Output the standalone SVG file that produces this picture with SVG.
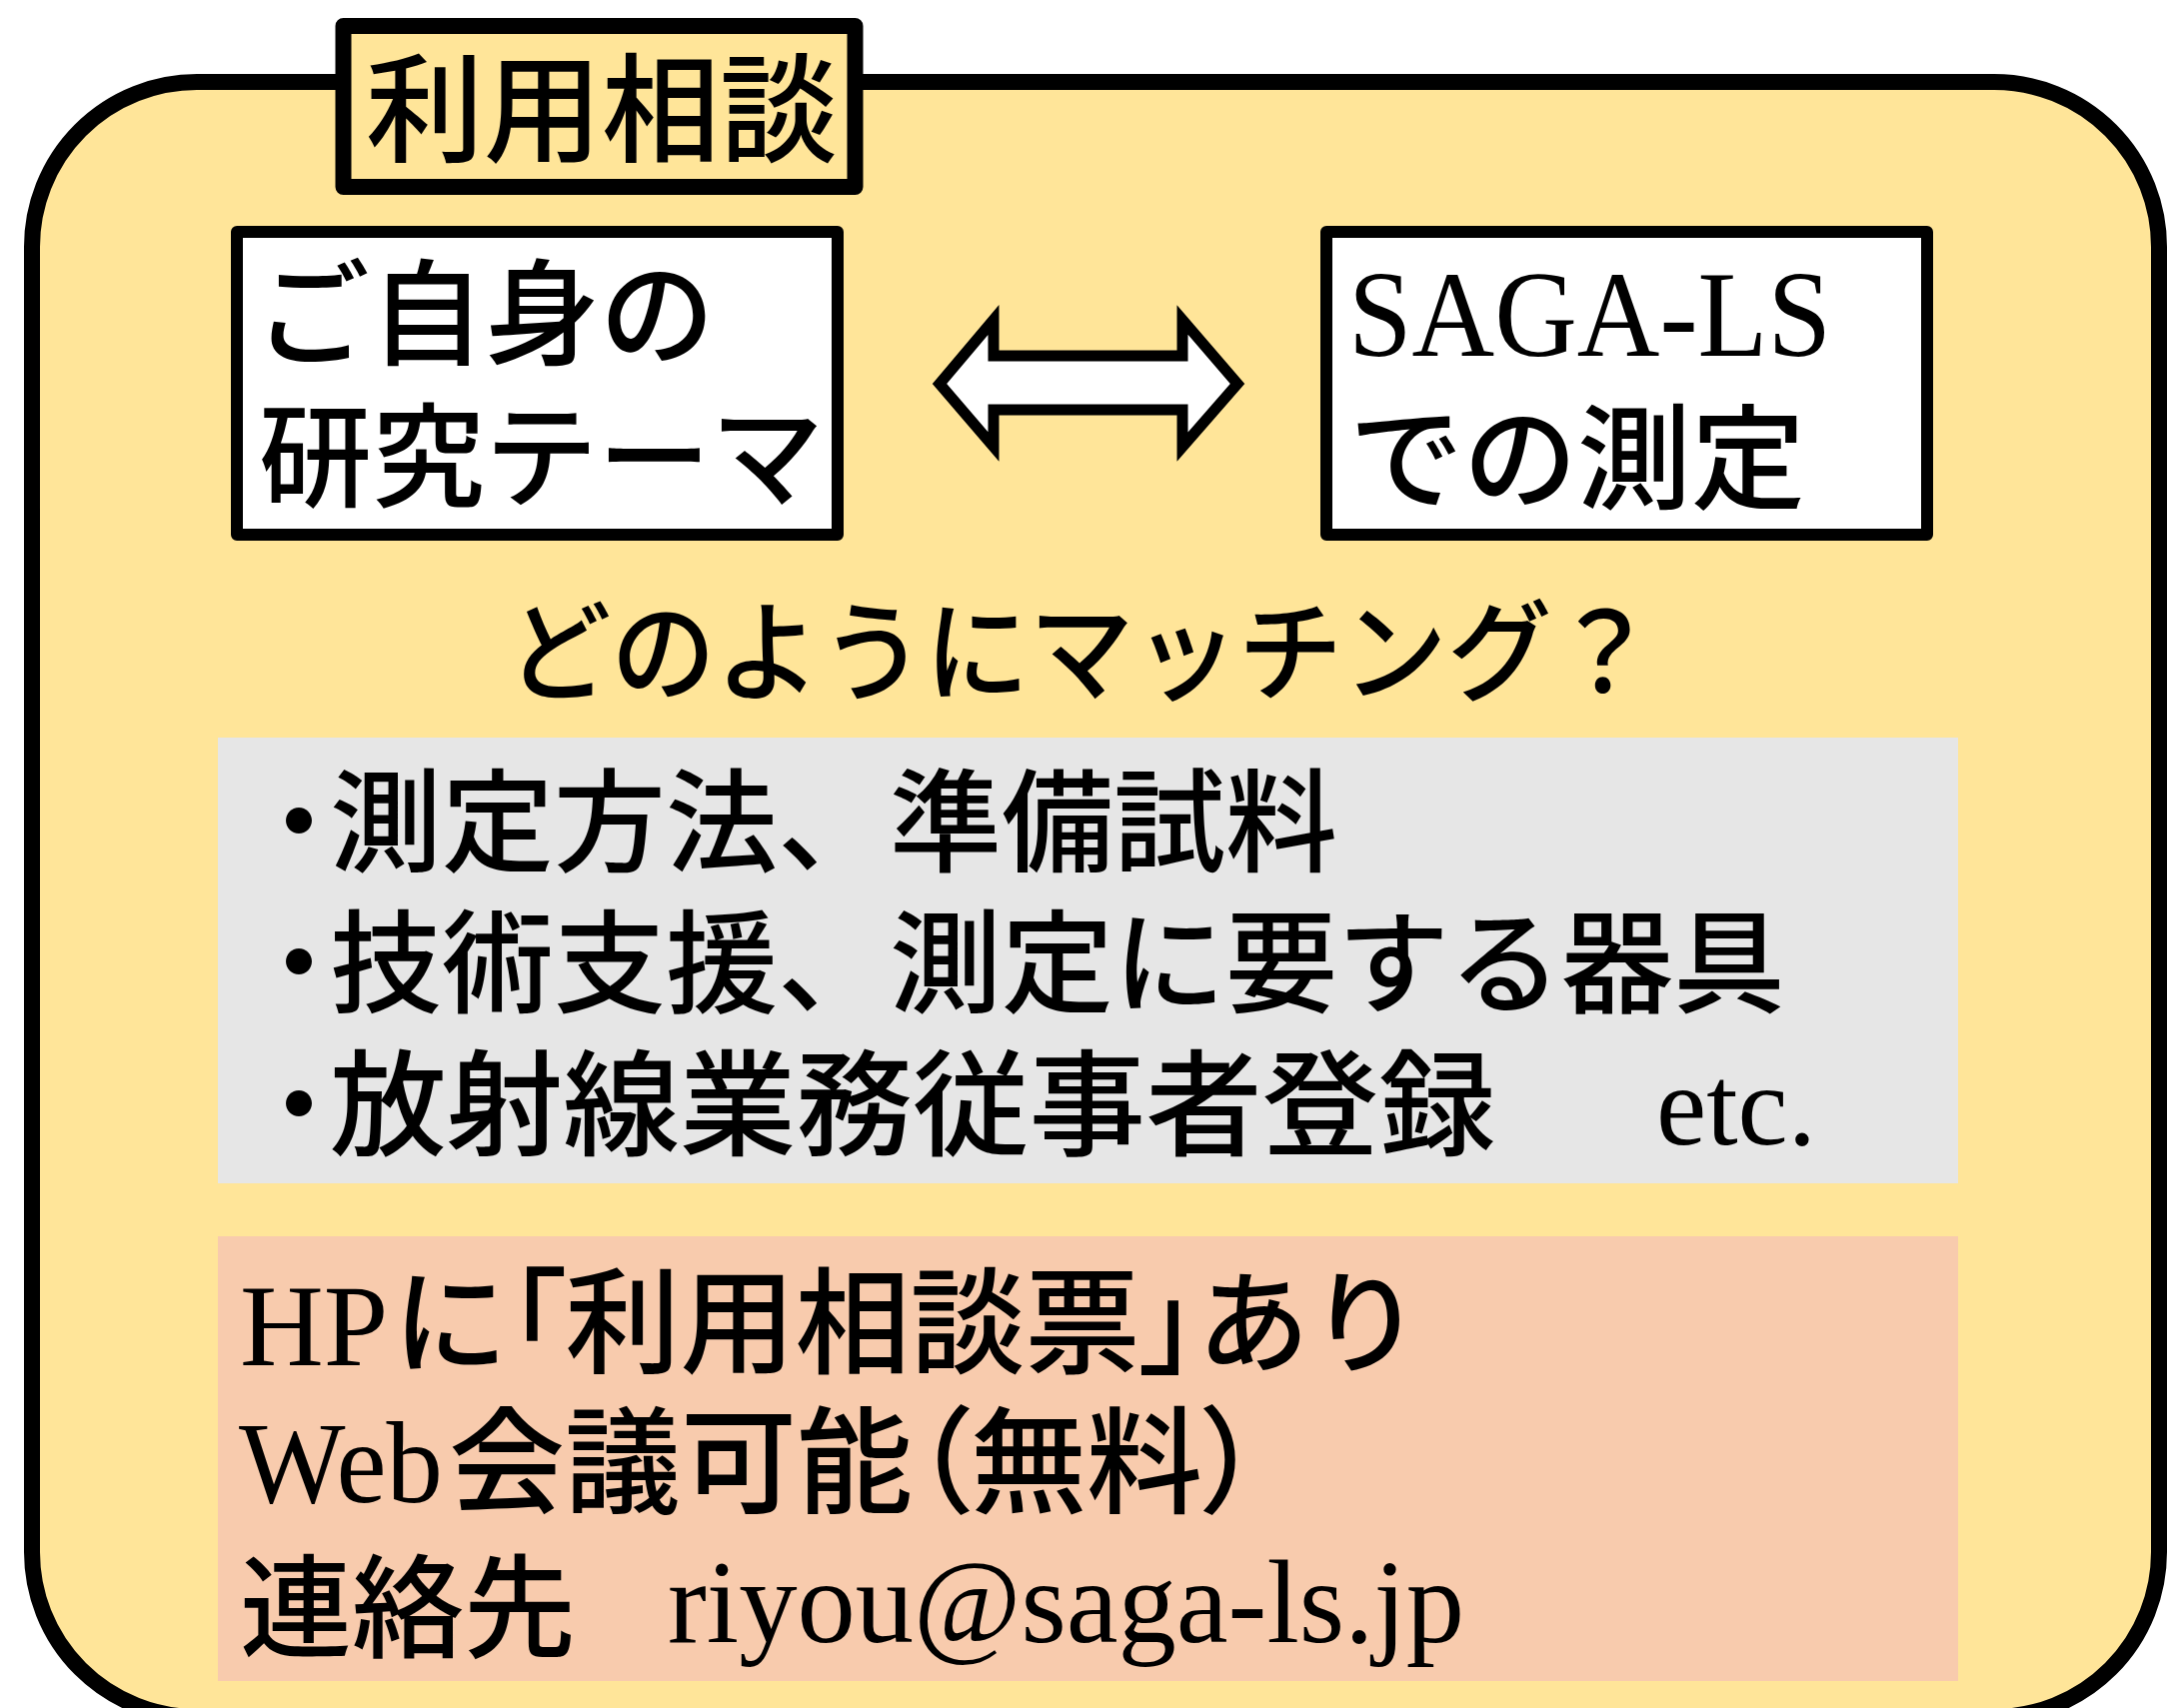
<svg xmlns="http://www.w3.org/2000/svg" width="2169" height="1709" viewBox="0 0 2169 1709">
<style>
.jp{font-family:"Noto Sans CJK JP","Noto Sans CJK SC",sans-serif;font-weight:500;fill:#000}
.lat{font-family:"Liberation Serif","Times New Roman",serif;font-weight:400;fill:#000}
.palt{font-feature-settings:"palt"}
.box{fill:#fff;stroke:#000;stroke-width:12;stroke-linejoin:round}
.yel{fill:#FFE599;stroke:#000;stroke-width:16;stroke-linejoin:round}
</style>
<rect width="2169" height="1709" fill="#fff"/>
<g id="panel">
<rect class="yel" x="32" y="82" width="2128" height="1636" rx="165" ry="165"/>
</g>
<g id="title">
<rect class="yel" x="343.5" y="26" width="512" height="161"/>
<text class="jp" x="366" y="153" font-size="118">利用相談</text>
</g>
<g id="theme">
<rect class="box" x="237" y="232" width="601" height="303"/>
<text class="jp" x="255" y="356" font-size="115">ご自身の</text>
<text class="jp" x="259" y="498" font-size="113">研究テーマ</text>
</g>
<g id="sagals">
<rect class="box" x="1327" y="232" width="601" height="303"/>
<text class="lat" x="1349" y="356" font-size="122" textLength="483" lengthAdjust="spacingAndGlyphs">SAGA-LS</text>
<text class="jp" x="1350" y="500" font-size="114">での測定</text>
</g>
<g id="connectors">
<polygon points="940,384 994,320 994,356 1183,356 1183,320 1238,384 1183,447 1183,410 994,410 994,447" fill="#fff" stroke="#000" stroke-width="11" stroke-linejoin="miter"/>
</g>
<g id="question">
<text class="jp" x="507" y="693" font-size="110" textLength="1150" lengthAdjust="spacingAndGlyphs">どのようにマッチング？</text>
</g>
<g id="items">
<rect x="218" y="738" width="1741" height="446" fill="#E6E6E6"/>
<text class="jp" font-size="112" y="864"><tspan class="palt" x="271">・</tspan><tspan x="330">測定方法、準備試料</tspan></text>
<text class="jp" font-size="112" y="1005"><tspan class="palt" x="271">・</tspan><tspan x="330">技術支援、測定に要する器具</tspan></text>
<text class="jp" font-size="112" y="1147"><tspan class="palt" x="271">・</tspan><tspan x="330" font-size="115" textLength="1166" lengthAdjust="spacingAndGlyphs">放射線業務従事者登録</tspan></text>
<text class="lat" x="1657" y="1145" font-size="115" textLength="160" lengthAdjust="spacingAndGlyphs">etc.</text>
</g>
<g id="contact">
<rect x="218" y="1237" width="1741" height="445" fill="#F8CBAD"/>
<text class="jp" y="1365" font-size="115"><tspan class="lat" x="240" y="1366" font-size="116">HP</tspan><tspan x="393" y="1365">に<tspan class="palt">「</tspan>利用相談票<tspan class="palt">」</tspan><tspan font-size="112">あり</tspan></tspan></text>
<text class="jp" y="1505" font-size="116"><tspan class="lat" x="239" y="1503" textLength="204" lengthAdjust="spacingAndGlyphs">Web</tspan><tspan x="449" y="1505">会議可能<tspan class="palt">（</tspan>無料<tspan class="palt">）</tspan></tspan></text>
<text class="jp" x="240" y="1650" font-size="112">連絡先</text>
<text class="lat" x="668" y="1643" font-size="118" textLength="797" lengthAdjust="spacingAndGlyphs">riyou@saga-ls.jp</text>
</g>
</svg>
